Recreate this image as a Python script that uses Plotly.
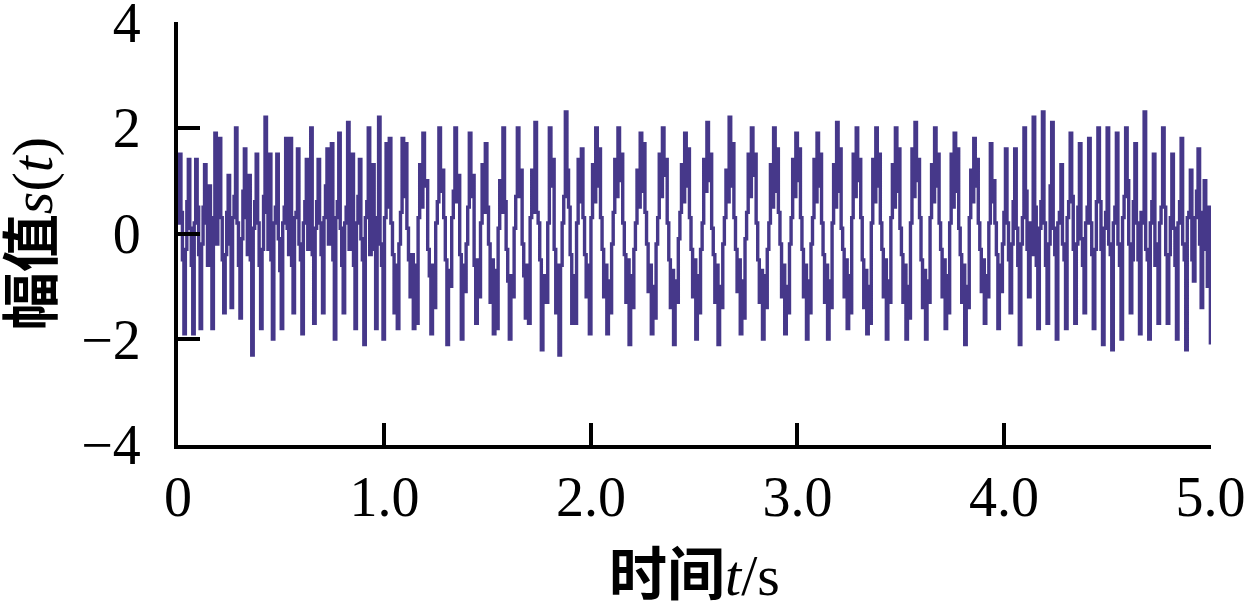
import numpy as np
import plotly.graph_objects as go

# Signal amplitude samples, one list per second of time
seg_0_1 = [0.2, 1.5, 0.4, -0.5, -1.9, -0.3, 0.6, 1.4, 0.1, -0.6, -1.9, 0.2, 1.4, 0.5, -0.4, -1.8, -0.2, 0.5, 1.3, 0.2,
           -0.6, 0.9, -0.3, -1.8, 0.3, 1.9, -0.2, 0.6, 1.8, 0.3, -0.5, -1.5, -0.4, 0.4, 1.1, -0.2, -1.4, 0.3, 0.7, 2.0,
           0.2, -0.6, -1.6, -0.1, 0.8, 1.6, 0.3, -0.4, 1.1, -0.5, -2.3, 0.1, 0.6, 1.5, 0.2, -0.6, -1.8, -0.3, 0.7, 2.2,
           0.4, -0.3, 1.5, -0.5, -2.0, 0.2, 0.5, 1.5, -0.1, -0.7, -1.8, 0.2, 0.5, 1.8, 0.1, -0.4, 1.8, -0.6, -1.5, 0.3,
           0.4, 1.6, -0.2, -0.5, -1.9, 0.2, 0.6, 1.4, -0.3, 0.5, 2.0, -0.4, -1.7, 0.1, 0.6, 1.4, 0.2, -0.4, -1.5, 0.3,
           0.9, 1.6, -0.2, 0.4, 1.7, -0.5, -2.0, 0.3, 0.6, 1.9, 0.1, -0.6, -1.5, 0.2, 0.5, 2.1, -0.3, 0.4, 1.5, -0.6,
           -1.8, 0.2, 0.7, 1.4, -0.1, -0.5, -2.1, 0.3, 0.6, 2.0, -0.4, 0.5, 1.3, -0.3, -1.8, 0.3, 2.2, -0.2, -0.6, -2.0]
seg_1_2 = [0.3, 1.7, 0.5, 1.8, 0.2, -0.4, -1.5, -0.6, -1.8, -0.2, 0.4, 1.8, 0.7, 1.7, 0.1, -0.5, -1.2, -0.4, -1.8, -0.6,
           -1.7, 0.3, 1.3, 0.5, 1.9, 0.9, 1.0, -0.3, -0.8, -1.9, -0.6, -1.4, 0.2, 0.6, 2.0, 0.8, 1.2, 0.3, -0.5, -2.1,
           -0.7, -1.0, 0.3, 0.8, 2.0, 0.6, 1.1, -0.4, -2.0, -0.6, -1.1, -0.2, 0.5, 1.9, 0.7, 1.1, -0.6, -1.7, -0.5, -1.2,
           0.2, 1.3, 0.4, 1.7, 0.5, -0.2, -1.3, -0.5, -1.9, -0.7, -1.8, 0.1, 1.0, 0.4, 2.0, 0.6, -0.3, -0.9, -2.0, -0.8,
           -1.2, 0.1, 0.7, 2.0, 0.7, 1.2, -0.2, -0.8, -1.6, -0.6, -1.7, 0.3, 1.2, 0.4, 2.1, 0.4, 0.2, -0.5, -2.2, -0.8,
           -1.0, -1.3, 0.2, 2.0, 0.9, 1.4, -0.3, -1.5, -0.6, -2.3, -0.6, 0.2, 0.7, 2.3, 1.2, 0.5, -0.4, -1.7, -0.8, -1.7,
           0.2, 1.4, 0.6, 1.6, 0.3, -0.4, -1.2, -0.6, -1.9]
seg_2_3 = [0.3, 1.3, 0.6, 2.0, 0.9, 1.6, 0.3, -0.3, -1.2, -0.6, -1.9, -0.9, -1.5, -0.2,
           0.4, 1.4, 0.7, 2.0, 1.0, 1.5, 0.2, -0.4, -1.3, -0.5, -2.1, -0.8, -1.4, -0.3,
           0.2, 1.2, 0.5, 1.9, 0.8, 1.7, 0.4, -0.2, -1.1, -0.6, -1.9, -1.0, -1.6, -0.2,
           0.3, 1.5, 0.7, 2.0, 1.1, 1.4, 0.2, -0.5, -1.4, -0.7, -2.1, -0.9, -1.3, -0.1,
           0.4, 1.3, 0.6, 1.9, 0.9, 1.6, 0.3, -0.3, -1.2, -0.5, -2.0, -0.8, -1.5, -0.3,
           0.2, 1.4, 0.8, 2.1, 1.0, 1.5, 0.1, -0.4, -1.3, -0.6, -2.1, -1.0, -1.4, -0.2,
           0.3, 1.2, 0.6, 2.2, 0.9, 1.7, 0.3, -0.3, -1.1, -0.5, -1.9, -0.9, -1.6, -0.1,
           0.4, 1.5, 0.7, 2.0, 1.1, 1.5, 0.2, -0.5, -1.3, -0.7, -2.0, -0.8, -1.4, -0.3,
           0.2, 1.3, 0.5, 2.0, 0.8, 1.6, 0.4, -0.2, -1.2, -0.6, -1.9, -1.0, -1.5, -0.2,
           0.3, 1.4, 0.7, 1.9]
seg_3_4 = [1.0, 1.6, 0.3, -0.3, -1.2, -0.6, -2.0, -0.9, -1.5, -0.2,
           0.3, 1.4, 0.6, 1.9, 0.9, 1.5, 0.2, -0.4, -1.3, -0.6, -2.0, -0.9, -1.4,
           0.2, 1.3, 0.5, 2.1, 0.8, 1.6, 0.1, -0.3, -1.2, -0.5, -1.8, -0.8, -1.5,
           0.3, 1.5, 0.7, 2.0, 1.0, 1.4, 0.3, -0.5, -1.4, -0.7, -1.9, -1.0, -1.7,
           0.2, 1.4, 0.6, 2.0, 0.9, 1.5, 0.2, -0.3, -1.2, -0.5, -2.0, -0.9, -1.3,
           0.3, 1.3, 0.5, 2.0, 0.8, 1.6, 0.1, -0.4, -1.3, -0.6, -2.0, -1.0, -1.6,
           0.2, 1.6, 0.7, 2.1, 1.0, 1.4, 0.3, -0.5, -1.4, -0.7, -2.0, -0.9, -1.3,
           0.3, 1.3, 0.6, 2.0, 0.9, 1.5, 0.2, -0.3, -1.2, -0.5, -1.8, -0.8, -1.5,
           0.2, 1.5, 0.5, 1.9, 0.8, 1.6, 0.1, -0.4, -1.3, -0.6, -2.1, -1.0, -1.4,
           0.3, 1.2, 0.6, 1.8, 0.9, 1.4, 0.2, -0.3, -1.1, -0.5, -1.7, -0.8, -1.2,
           0.2, 1.7, 0.6, 1.0, 0.2, -0.4, -1.8, -0.6, -1.1, -0.2]
seg_4_5 = [0.4, 1.6, 0.2, -0.5, -1.5, -0.2, 0.6, 1.6, 0.1, -0.6, -2.1, -0.2, 0.3, 2.0, 0.8, -0.3, -1.2, 0.2, -0.4, 2.2,
           0.5, -0.6, -1.8, 0.1, 0.6, 2.3, 0.2, -0.6, -1.7, -0.2, 0.9, 2.1, 0.1, -0.4, -2.0, 0.2, 0.4, 1.3, -0.2, -0.5,
           -1.8, 0.3, 0.6, 1.9, 0.7, -0.3, -1.7, -0.2, 0.5, 1.7, -0.1, -0.6, -1.5, 0.2, 0.5, 1.8, 0.2, -0.4, -1.8, -0.3,
           0.6, 2.0, 0.6, -0.3, -2.1, 0.1, 0.4, 2.0, -0.2, -0.4, -2.2, 0.2, 0.5, 1.9, -0.2, -0.6, -2.0, 0.3, 0.7, 2.0,
           1.0, -0.2, -1.5, -0.5, 0.6, 1.7, 0.2, -0.5, -1.9, 0.4, 0.2, 2.3, -0.3, -0.5, -2.0, 0.2, 0.6, 1.5, -0.6, -0.2,
           -1.7, 0.2, 0.5, 2.0, 0.5, -0.4, -1.7, -0.4, 0.3, 1.5, 0.1, -0.6, -2.0, 0.2, 0.6, 1.8, -0.2, -0.5, -2.2, 0.3,
           0.4, 1.2, -0.5, -0.9, 0.3, 0.8, 1.6, -0.2, -1.4, 0.4, 1.0, -0.3, -1.0, 0.5, -2.1]

segments = [seg_0_1, seg_1_2, seg_2_3, seg_3_4, seg_4_5]

x_tick_vals = [0, 1, 2, 3, 4, 5]
x_tick_text = ["0", "1.0", "2.0", "3.0", "4.0", "5.0"]
y_tick_vals = [-4, -2, 0, 2, 4]

t_all, s_all = [], []
for k, seg in enumerate(segments):
    last = (k == len(segments) - 1)
    tt = np.linspace(k, k + 1, len(seg), endpoint=last)
    t_all.extend(tt.tolist())
    s_all.extend(seg)

fig = go.Figure()
fig.add_trace(go.Scatter(x=t_all, y=s_all, mode="lines",
                         line=dict(color="#46388a", width=3.4, shape="hv"), showlegend=False))

num_font = dict(family="Liberation Serif, Times New Roman, serif", size=56, color="black")
title_font = dict(family="Liberation Serif, Noto Sans CJK SC, serif", size=58, color="black")

fig.update_layout(
    width=1245, height=608,
    margin=dict(l=178, r=34, t=22, b=163),
    paper_bgcolor="white", plot_bgcolor="white",
    xaxis=dict(range=[0, 5.003], tickvals=x_tick_vals, ticktext=x_tick_text,
               ticks="inside", ticklen=22, tickwidth=4, tickcolor="black",
               showline=True, linewidth=4, linecolor="black", showgrid=False, zeroline=False,
               tickfont=num_font, ticklabeloverflow="allow", automargin=False,
               title=dict(text="<b>时间</b><i>t</i>/s", font=title_font, standoff=30)),
    yaxis=dict(range=[-4.003, 4.003], tickvals=y_tick_vals,
               ticks="inside", ticklen=22, tickwidth=4, tickcolor="black",
               showline=True, linewidth=4, linecolor="black", showgrid=False, zeroline=False,
               tickfont=num_font, ticklabelstandoff=22, ticklabeloverflow="allow", automargin=False,
               title=dict(text="<b>幅值</b><i>s</i>(<i>t</i>)", font=title_font, standoff=30)),
)

fig.write_html("out.html", config={"displayModeBar": False},
               post_script="document.body.style.margin='0';")
